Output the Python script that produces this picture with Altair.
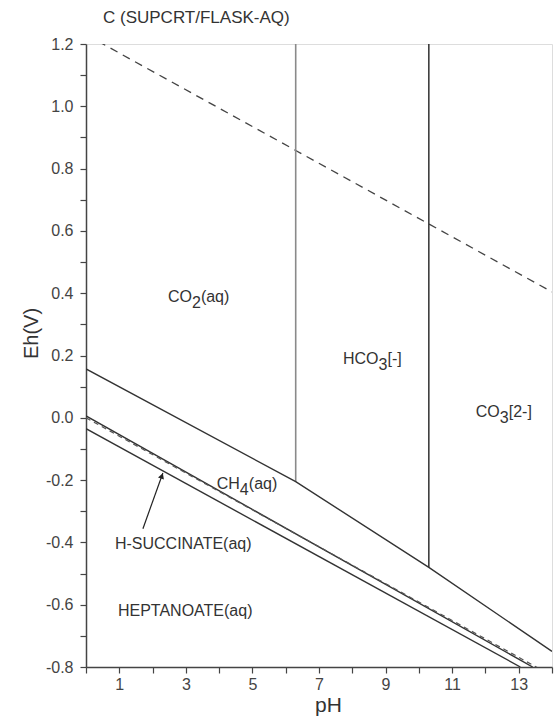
import altair as alt
import pandas as pd

FONT = "Liberation Sans"
INK = "#333333"
AXIS = "#444444"

# Boundary vertices: pH and Eh (V)
co2_ch4_ph = [0.0, 6.3, 10.3, 14.0]
co2_ch4_eh = [0.157, -0.205, -0.48, -0.75]
ch4_succ_ph = [0.0, 13.42]
ch4_succ_eh = [0.006, -0.80]
succ_hept_ph = [0.0, 13.05]
succ_hept_eh = [-0.035, -0.80]
co2_hco3_ph = [6.3, 6.3]
co2_hco3_eh = [1.2, -0.205]
hco3_co3_ph = [10.3, 10.3]
hco3_co3_eh = [1.2, -0.48]

# Water stability limits
o2_h2o_ph = [0.0, 14.0]
o2_h2o_eh = [1.23, 0.404]
h2o_h2_ph = [0.0, 14.0]
h2o_h2_eh = [0.0, -0.828]

# Field labels: (main, subscript, suffix, pH, Eh)
field_main = ["CO", "HCO", "CO", "CH", "H-SUCCINATE(aq)", "HEPTANOATE(aq)"]
field_sub = ["2", "3", "3", "4", "", ""]
field_suffix = ["(aq)", "[-]", "[2-]", "(aq)", "", ""]
field_ph = [2.46, 7.72, 11.71, 3.93, 0.87, 0.96]
field_eh = [0.387, 0.188, 0.018, -0.213, -0.406, -0.621]

# Pointer to the H-succinate strip
arrow_ph = [1.71, 2.31]
arrow_eh = [-0.356, -0.177]

x_ticks = list(range(0, 15))
y_ticks = [round(-0.8 + 0.1 * i, 1) for i in range(21)]

x_scale = alt.Scale(domain=[0, 14], nice=False, zero=False)
y_scale = alt.Scale(domain=[-0.8, 1.2], nice=False, zero=False)

common_axis = dict(
    grid=False, domainColor=AXIS, domainWidth=1.5, tickColor=AXIS, tickWidth=1.2,
    tickSize=6, labelFont=FONT, labelFontSize=16, labelColor="#444444",
    labelOverlap=False, labelFlush=False, titleFont=FONT, titleFontWeight="normal",
    titleColor=INK, titleAlign="center", titleBaseline="middle",
)

x_axis = alt.Axis(
    values=x_ticks, labelExpr="datum.value % 2 == 1 ? datum.label : ''",
    labelPadding=3, title="pH", titleFontSize=21, titleX=242, titleY=38,
    **common_axis,
)
y_axis = alt.Axis(
    values=y_ticks,
    labelExpr=(
        "round(datum.value * 10) % 2 == 0 ? "
        "(datum.value < -0.01 ? '-' + format(-datum.value, '.1f') : format(abs(datum.value), '.1f'))"
        " : ''"
    ),
    labelPadding=7, title="Eh(V)", titleFontSize=20, titleX=-55, titleY=289,
    titleAngle=270, **common_axis,
)


def enc_x(field="pH"):
    return alt.X(f"{field}:Q", scale=x_scale, axis=x_axis)


def enc_y(field="Eh"):
    return alt.Y(f"{field}:Q", scale=y_scale, axis=y_axis)


def boundary(ph, eh, color=INK, width=1.4, dash=None):
    df = pd.DataFrame({"pH": ph, "Eh": eh, "k": range(len(ph))})
    kw = dict(color=color, strokeWidth=width, clip=True)
    if dash:
        kw["strokeDash"] = dash
    return alt.Chart(df).mark_line(**kw).encode(x=enc_x(), y=enc_y(), order="k:Q")


layers = [
    boundary(o2_h2o_ph, o2_h2o_eh, color="#444444", width=1.3, dash=[8, 6]),
    boundary(co2_hco3_ph, co2_hco3_eh, color="#8a8a8a", width=1.6),
    boundary(hco3_co3_ph, hco3_co3_eh, color="#222222", width=1.4),
    boundary(co2_ch4_ph, co2_ch4_eh),
    boundary(ch4_succ_ph, ch4_succ_eh),
    boundary(h2o_h2_ph, h2o_h2_eh, color="#555555", width=1.2, dash=[5, 4]),
    boundary(succ_hept_ph, succ_hept_eh),
]

labels = pd.DataFrame({
    "main": field_main, "sub": field_sub, "suffix": field_suffix,
    "pH": field_ph, "Eh": field_eh,
})
# offsets of the subscript and suffix pieces, in pixels
sub_dx = [24, 35.5, 24, 23, 0, 0]
labels["sub_dx"] = sub_dx
labels["suf_dx"] = [d + 9 for d in sub_dx]

text_style = dict(font=FONT, fontSize=16, color=INK, align="left", baseline="middle")
layers.append(
    alt.Chart(labels).mark_text(**text_style).encode(x=enc_x(), y=enc_y(), text="main:N")
)
for i, row in labels.iterrows():
    if row["sub"]:
        one = labels.iloc[[i]]
        layers.append(
            alt.Chart(one).mark_text(dx=float(row["sub_dx"]), dy=6, **text_style)
            .encode(x=enc_x(), y=enc_y(), text="sub:N")
        )
        layers.append(
            alt.Chart(one).mark_text(dx=float(row["suf_dx"]), **text_style)
            .encode(x=enc_x(), y=enc_y(), text="suffix:N")
        )

arrow = pd.DataFrame({
    "pH": [arrow_ph[0]], "Eh": [arrow_eh[0]], "pH2": [arrow_ph[1]], "Eh2": [arrow_eh[1]],
})
layers.append(
    alt.Chart(arrow).mark_rule(color="#222222", strokeWidth=1.2).encode(
        x=enc_x(), y=enc_y(), x2="pH2:Q", y2="Eh2:Q"
    )
)
head = pd.DataFrame({"pH": [arrow_ph[1]], "Eh": [arrow_eh[1]]})
layers.append(
    alt.Chart(head).mark_point(
        shape="triangle-up", filled=True, size=40, angle=20, color="#222222", opacity=1,
        yOffset=3, xOffset=-1,
    ).encode(x=enc_x(), y=enc_y())
)

title = pd.DataFrame({"t": ["C (SUPCRT/FLASK-AQ)"]})
layers.append(
    alt.Chart(title).mark_text(
        font=FONT, fontSize=17, color=INK, align="left", baseline="middle"
    ).encode(x=alt.value(17), y=alt.value(-26), text="t:N")
)

chart = (
    alt.layer(*layers)
    .properties(
        width=466, height=623,
        autosize=alt.AutoSizeParams(type="none"),
        padding={"left": 86, "top": 44, "right": 6, "bottom": 54},
    )
    .configure_view(stroke=AXIS, strokeWidth=1.5)
    .configure(background="white")
)

chart.save("out.html", embed_options={"renderer": "svg", "actions": False})
